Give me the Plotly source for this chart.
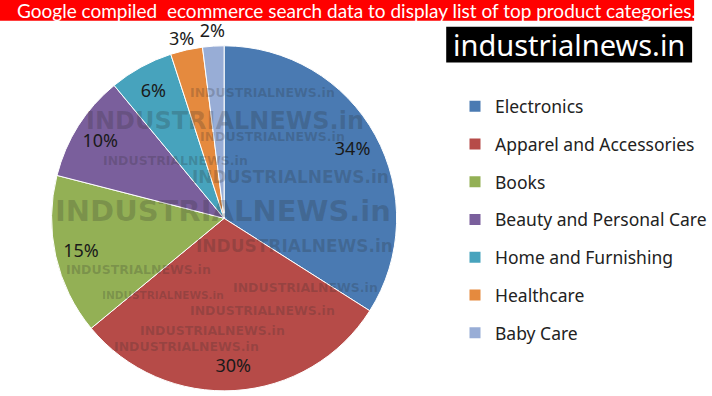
import plotly.graph_objects as go

# ---- data ----
categories = ["Electronics", "Apparel and Accessories", "Books",
              "Beauty and Personal Care", "Home and Furnishing",
              "Healthcare", "Baby Care"]
shares = [34, 30, 15, 10, 6, 3, 2]
colors = ["#4A7AB2", "#B64B48", "#93B055", "#7A5F9C", "#47A3BD", "#E58A3E", "#98ADD6"]
title_text = "Google compiled  ecommerce search data to display list of top product categories."
brand_text = "industrialnews.in"
watermark_text = "INDUSTRIALNEWS.in"

W, H = 712, 396

def px(x):
    return x / W

def py(y):
    return 1 - y / H

# pie placement (pixels): centre (226,220), radius 174
cx, cy, r = 226, 220, 174

def domain(dx=0, dy=0):
    return dict(x=[px(cx + dx - r), px(cx + dx + r)],
                y=[py(cy + dy + r), py(cy + dy - r)])

n = len(shares)
clear = ["rgba(0,0,0,0)"] * n
label_font = dict(family="Noto Sans", size=18, color="#1a1a1a")

fig = go.Figure()

fig.add_trace(go.Pie(
    labels=categories, values=shares, sort=False, direction="clockwise", rotation=0,
    marker=dict(colors=colors, line=dict(color="white", width=1)),
    textinfo="none", hoverinfo="label+percent", showlegend=False,
    domain=domain(),
))

# percentage labels: big slices inside a transparent ring near the rim
big = [s >= 5 for s in shares]
fig.add_trace(go.Pie(
    labels=categories, values=shares, sort=False, direction="clockwise", rotation=0,
    hole=0.7,
    marker=dict(colors=clear, line=dict(width=0)),
    textinfo="percent", texttemplate="%{percent:.0%}",
    textposition=["inside" if b else "none" for b in big],
    insidetextorientation="horizontal",
    textfont=label_font,
    hoverinfo="skip", showlegend=False,
    domain=domain(),
))
# small slices: each outside label in its own transparent trace (no label stacking)
nudges = {5: (14, -1), 6: (18, -4)}
for i, b in enumerate(big):
    if b:
        continue
    dx, dy = nudges.get(i, (0, 0))
    fig.add_trace(go.Pie(
        labels=categories, values=shares, sort=False, direction="clockwise", rotation=0,
        marker=dict(colors=clear, line=dict(width=0)),
        textinfo="percent", texttemplate="%{percent:.0%}",
        textposition=["outside" if j == i else "none" for j in range(n)],
        textfont=label_font,
        hoverinfo="skip", showlegend=False,
        domain=domain(dx, dy),
    ))

# legend entries
for i, (name, col) in enumerate(zip(categories, colors)):
    fig.add_trace(go.Scatter(
        x=[None], y=[None], mode="markers", name=name, legendgroup=f"g{i}",
        marker=dict(symbol="square", size=11, color=col),
    ))

annotations = []
shapes = []

# title banner
shapes.append(dict(type="rect", xref="paper", yref="paper",
                   x0=0, x1=px(700), y0=py(21), y1=py(0),
                   fillcolor="#FF0000", line=dict(width=0), layer="above"))
annotations.append(dict(text=title_text, xref="paper", yref="paper",
                        x=px(15), y=py(10.5), xanchor="left", yanchor="middle",
                        showarrow=False,
                        font=dict(family="Lato", size=19, color="white")))

# brand box
shapes.append(dict(type="rect", xref="paper", yref="paper",
                   x0=px(450), x1=px(698), y0=py(63), y1=py(27),
                   fillcolor="black", line=dict(width=0), layer="above"))
annotations.append(dict(text=brand_text, xref="paper", yref="paper",
                        x=px(574), y=py(45), xanchor="center", yanchor="middle",
                        showarrow=False,
                        font=dict(family="Noto Sans", size=29, color="white")))

# watermarks: (centre x, centre y, font size) in pixels
marks = [
    (265, 93, 12.5), (227, 122, 24), (275, 138, 12.5), (177, 162, 12.5),
    (293, 178, 17), (225, 213, 29), (297, 248, 17), (140, 272, 12.5),
    (308, 290, 12.5), (164, 297, 10.5), (265, 313, 12.5), (214, 333, 12.5),
    (188, 349, 12.5),
]
for mx, my, ms in marks:
    annotations.append(dict(text=f"<b>{watermark_text}</b>", xref="paper", yref="paper",
                            x=px(mx), y=py(my), xanchor="center", yanchor="middle",
                            showarrow=False,
                            font=dict(family="DejaVu Sans", size=ms,
                                      color="rgba(40,40,40,0.22)")))

fig.update_layout(
    width=W, height=H, autosize=False,
    margin=dict(l=0, r=0, t=0, b=0),
    paper_bgcolor="white", plot_bgcolor="white",
    xaxis=dict(visible=False), yaxis=dict(visible=False),
    showlegend=True,
    legend=dict(x=px(459), y=py(89), xanchor="left", yanchor="top",
                font=dict(family="Noto Sans", size=17.5, color="#222222"),
                tracegroupgap=12, bgcolor="rgba(0,0,0,0)"),
    annotations=annotations, shapes=shapes,
)

fig.write_html("out.html", config={"displayModeBar": False},
               post_script="document.body.style.margin='0';document.body.style.overflow='hidden';")
